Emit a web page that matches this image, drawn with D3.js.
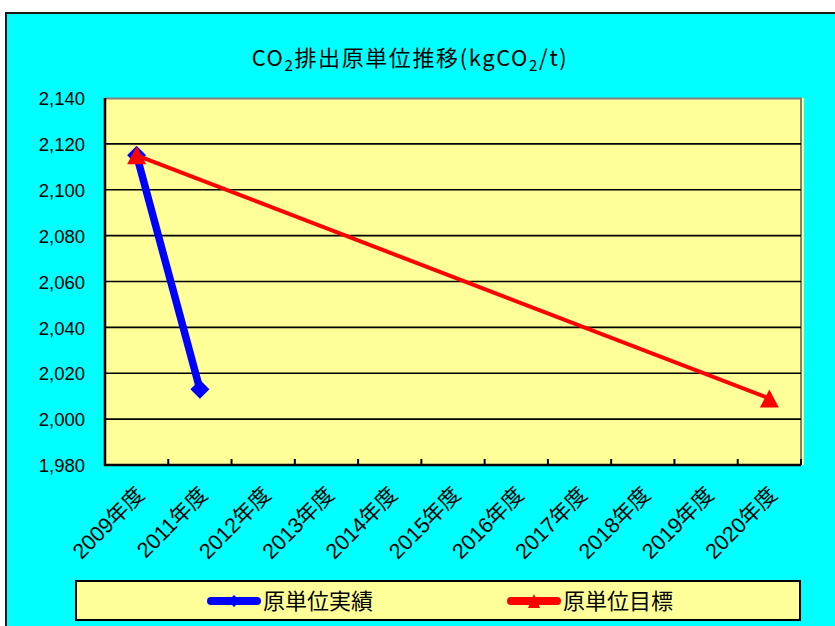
<!DOCTYPE html>
<html>
<head>
<meta charset="utf-8">
<script src="https://cdn.jsdelivr.net/npm/d3@7"></script>
<style>
  body { margin: 0; background: #fff; }
  #graf { width: 835px; height: 626px; }
  .ejes text { font-family: "Liberation Sans", "Noto Sans CJK JP", sans-serif; fill: #000; }
  .titulo { font-family: "Noto Sans CJK JP", sans-serif; font-size: 22px; letter-spacing: 1.6px; }
  .leyenda { font-family: "Noto Sans CJK JP", sans-serif; font-size: 22px; }
</style>
</head>
<body>
<div id="graf"></div>
<script>
const categorias = ["2009年度", "2011年度", "2012年度", "2013年度", "2014年度", "2015年度",
  "2016年度", "2017年度", "2018年度", "2019年度", "2020年度"]
// 原単位実績 (blue) y 原単位目標 (red)
const jisseki = [
  { anio: "2009年度", valor: 2115 },
  { anio: "2011年度", valor: 2013 },
]
const mokuhyo = [
  { anio: "2009年度", valor: 2115 },
  { anio: "2020年度", valor: 2009 },
]
const yTicks = [1980, 2000, 2020, 2040, 2060, 2080, 2100, 2120, 2140]
const series = ["原単位実績", "原単位目標"]

const graf = d3.select("#graf")
const anchoTotal = 835
const altoTotal = 626
const margins = { left: 105, top: 98, right: 34, bottom: 161 }
const ancho = anchoTotal - margins.left - margins.right
const alto = altoTotal - margins.top - margins.bottom

const svg = graf.append("svg")
  .attr("width", anchoTotal)
  .attr("height", altoTotal)

// fondo cian con borde
svg.append("rect")
  .attr("x", 6).attr("y", 13)
  .attr("width", anchoTotal + 10).attr("height", altoTotal + 10)
  .attr("fill", "#00ffff")
  .attr("stroke", "#1a1a1a")
  .attr("stroke-width", 2)

svg.append("text")
  .attr("class", "titulo")
  .attr("x", 410)
  .attr("y", 66)
  .attr("text-anchor", "middle")
  .call((t) => {
    t.append("tspan").text("CO")
    t.append("tspan").attr("dy", 5).attr("font-size", 15).text("2")
    t.append("tspan").attr("dy", -5).text("排出原単位推移(kgCO")
    t.append("tspan").attr("dy", 5).attr("font-size", 15).text("2")
    t.append("tspan").attr("dy", -5).text("/t)")
  })

const g = svg.append("g")
  .attr("transform", `translate(${margins.left}, ${margins.top})`)

const x = d3.scaleBand().domain(categorias).range([0, ancho])
const y = d3.scaleLinear().domain([1980, 2140]).range([alto, 0])

g.append("rect")
  .attr("width", ancho + 3)
  .attr("height", alto)
  .attr("fill", "#ffff99")

// borde superior y derecho gris
g.append("path")
  .attr("d", `M0,0.5H${ancho}V${alto}`)
  .attr("fill", "none")
  .attr("stroke", "#808080")
  .attr("stroke-width", 2)

// cuadricula
g.append("g")
  .selectAll("line")
  .data(yTicks.slice(1, -1))
  .join("line")
  .attr("x1", 0).attr("x2", ancho)
  .attr("y1", (d) => y(d)).attr("y2", (d) => y(d))
  .attr("stroke", "#000")
  .attr("stroke-width", 1.6)

const yAxis = d3.axisLeft(y).tickValues(yTicks).tickSize(0).tickPadding(20)
  .tickFormat(d3.format(","))
g.append("g").attr("class", "ejes").call(yAxis)
  .call((s) => s.select(".domain").remove())
  .selectAll("text").attr("font-size", 18.5).attr("dy", "0.36em")

// eje x con ticks hacia dentro, entre categorias
const bordes = d3.range(categorias.length + 1).map((i) => i * x.step())
const ejeX = g.append("g").attr("class", "ejes").attr("transform", `translate(0, ${alto})`)
ejeX.selectAll("line.tick")
  .data(bordes.slice(1))
  .join("line")
  .attr("x1", (d) => d).attr("x2", (d) => d)
  .attr("y1", 0).attr("y2", -6)
  .attr("stroke", "#000").attr("stroke-width", 2)
ejeX.selectAll("text")
  .data(categorias)
  .join("text")
  .attr("font-size", 21.5)
  .attr("text-anchor", "end")
  .attr("transform", (d) => `translate(${x(d) + x.bandwidth() / 2 + 9}, 31) rotate(-45)`)
  .text((d) => d)

g.append("path")
  .attr("d", `M0,0V${alto}H${ancho}`)
  .attr("fill", "none")
  .attr("stroke", "#000")
  .attr("stroke-width", 2.5)

const cx = (d) => x(d.anio) + x.bandwidth() / 2
const linea = d3.line().x(cx).y((d) => y(d.valor))

const triangulo = (w, h) => `M0,${-h / 2}L${w / 2},${h / 2}L${-w / 2},${h / 2}Z`
const rombo = (r) => `M0,${-r}L${r},0L0,${r}L${-r},0Z`

g.append("path")
  .datum(jisseki)
  .attr("d", linea)
  .attr("fill", "none")
  .attr("stroke", "#0000ff")
  .attr("stroke-width", 7.5)
g.selectAll(".rombo")
  .data(jisseki)
  .join("path")
  .attr("class", "rombo")
  .attr("transform", (d) => `translate(${cx(d)}, ${y(d.valor)})`)
  .attr("d", rombo(9.5))
  .attr("fill", "#0000ff")

g.append("path")
  .datum(mokuhyo)
  .attr("d", linea)
  .attr("fill", "none")
  .attr("stroke", "#ff0000")
  .attr("stroke-width", 4)
g.selectAll(".tri")
  .data(mokuhyo)
  .join("path")
  .attr("class", "tri")
  .attr("transform", (d) => `translate(${cx(d)}, ${y(d.valor)})`)
  .attr("d", triangulo(19, 18))
  .attr("fill", "#ff0000")

// leyenda
const ley = svg.append("g")
ley.append("rect")
  .attr("x", 76).attr("y", 581)
  .attr("width", 724).attr("height", 39)
  .attr("fill", "#ffff99")
  .attr("stroke", "#000")
  .attr("stroke-width", 2)

const colores = ["#0000ff", "#ff0000"]
const legX = d3.scalePoint().domain(series).range([207, 507])
const item = ley.selectAll(".item")
  .data(series)
  .join("g")
  .attr("class", "item")
  .attr("transform", (d) => `translate(${legX(d)}, 601)`)
item.append("line")
  .attr("x1", 4).attr("x2", 50)
  .attr("stroke", (d, i) => colores[i])
  .attr("stroke-width", 8)
  .attr("stroke-linecap", "round")
item.append("path")
  .attr("transform", "translate(27, 0)")
  .attr("d", (d, i) => i == 0 ? rombo(6) : triangulo(12, 14))
  .attr("fill", (d, i) => colores[i])
item.append("text")
  .attr("class", "leyenda")
  .attr("x", 56)
  .attr("dy", "0.36em")
  .text((d) => d)
</script>
</body>
</html>
